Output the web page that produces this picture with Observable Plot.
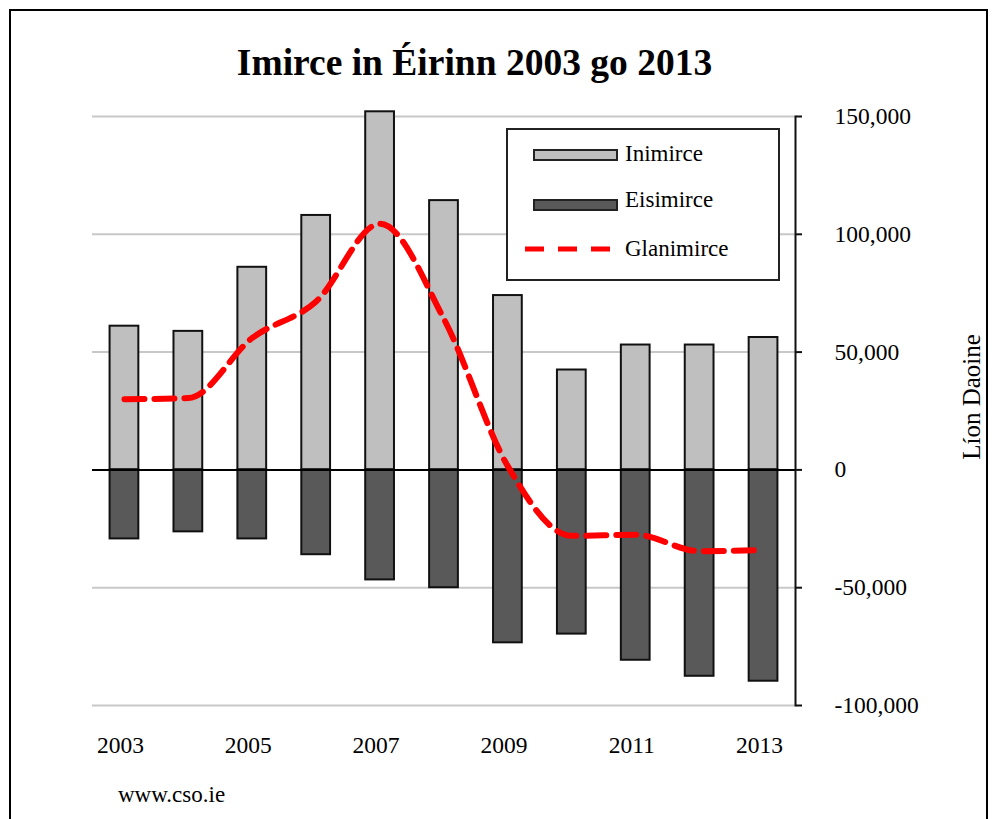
<!DOCTYPE html>
<html>
<head>
<meta charset="utf-8">
<script src="https://cdn.jsdelivr.net/npm/d3@7"></script>
<script src="https://cdn.jsdelivr.net/npm/@observablehq/plot@0.6"></script>
<style>
  html, body { margin: 0; padding: 0; background: #fff; }
  #wrap { position: relative; width: 998px; height: 819px; overflow: hidden; font-family: "Liberation Serif", "Times New Roman", serif; color: #000; }
  #frame { position: absolute; left: 9px; top: 9px; width: 979px; height: 900px; border: 2px solid #000; box-sizing: border-box; }
  #title { position: absolute; left: 0; width: 949px; top: 44px; text-align: center; font-size: 37.5px; line-height: 37.5px; font-weight: bold; white-space: nowrap; }
  #chart { position: absolute; left: 0; top: 100px; }
  #ylabel { position: absolute; left: 971px; top: 397px; transform: translate(-50%, -50%) rotate(-90deg); font-size: 25px; line-height: 25px; white-space: nowrap; }
  #caption { position: absolute; left: 118px; top: 783px; font-size: 23px; line-height: 23px; }
  #legend { position: absolute; left: 506px; top: 128px; width: 274px; height: 153px; border: 2px solid #222; box-sizing: border-box; background: #fff; }
  .sw { position: absolute; left: 25px; width: 85px; height: 12px; border: 2px solid #222; box-sizing: border-box; }
  .lt { position: absolute; left: 117px; font-size: 23px; line-height: 23px; white-space: nowrap; }
</style>
</head>
<body>
<div id="wrap">
  <div id="frame"></div>
  <div id="title">Imirce in Éirinn 2003 go 2013</div>
  <div id="chart"></div>
  <div id="ylabel">Líon Daoine</div>
  <div id="caption">www.cso.ie</div>
  <div id="legend"></div>
</div>
<script>
const years = ["2003","2004","2005","2006","2007","2008","2009","2010","2011","2012","2013"];
const inimirce = [61000, 58800, 86000, 108000, 152000, 114300, 74000, 42400, 53000, 53000, 56200];
const eisimirce = [-29300, -26300, -29300, -36000, -46700, -50000, -73400, -69700, -80800, -87600, -89700];
const glanimirce = [30000, 30500, 56000, 71500, 104500, 64000, 1500, -28000, -27500, -34500, -34000];
const yTicks = [-100000, -50000, 0, 50000, 100000, 150000];
const xTickLabels = ["2003","2005","2007","2009","2011","2013"];
const gridValues = [-100000, -50000, 50000, 100000, 150000];
const seriesNames = ["Inimirce", "Eisimirce", "Glanimirce"];
const colors = {Inimirce: "#bfbfbf", Eisimirce: "#595959", Glanimirce: "#ff0000"};

const rows = years.map((y, i) => ({year: y, inn: inimirce[i], eis: eisimirce[i], net: glanimirce[i]}));
const fmt = d => (d < 0 ? "-" : "") + d3.format(",")(Math.abs(d));

const chart = Plot.plot({
  width: 998,
  height: 670,
  marginLeft: 92,
  marginRight: 203,
  marginTop: 16,
  marginBottom: 65,
  style: {fontFamily: "Liberation Serif, Times New Roman, serif", fontSize: "23.5px", color: "#000", background: "transparent"},
  x: {type: "band", domain: years, paddingInner: 0.55, paddingOuter: 0.275, round: false},
  y: {domain: [-100000, 150000]},
  marks: [
    Plot.ruleY(gridValues, {stroke: "#c8c8c8", strokeWidth: 2}),
    Plot.barY(rows, {x: "year", y: "inn", fill: colors.Inimirce, stroke: "#111", strokeWidth: 2}),
    Plot.barY(rows, {x: "year", y: "eis", fill: colors.Eisimirce, stroke: "#111", strokeWidth: 2}),
    Plot.ruleY([0], {stroke: "#000", strokeWidth: 2}),
    Plot.line(rows, {x: "year", y: "net", stroke: colors.Glanimirce, strokeWidth: 6, strokeDasharray: "20,10", curve: "monotone-x"}),
    Plot.frame({anchor: "right", stroke: "#111", strokeWidth: 2}),
    Plot.axisY({anchor: "right", ticks: yTicks, tickFormat: fmt, tickSize: 6, tickPadding: 33, label: null, stroke: "#111", strokeWidth: 2}),
    Plot.axisX({anchor: "bottom", ticks: xTickLabels, tickSize: 0, tickPadding: 31, dx: -4, label: null})
  ]
});
document.getElementById("chart").appendChild(chart);

// Legend
const legend = document.getElementById("legend");
const swTops = [19, 69];
["Inimirce", "Eisimirce"].forEach((name, i) => {
  const sw = document.createElement("div");
  sw.className = "sw";
  sw.style.top = swTops[i] + "px";
  sw.style.background = colors[name];
  legend.appendChild(sw);
  const t = document.createElement("div");
  t.className = "lt";
  t.style.top = (i === 0 ? 12 : 58) + "px";
  t.textContent = name;
  legend.appendChild(t);
});
const ns = "http://www.w3.org/2000/svg";
const ls = document.createElementNS(ns, "svg");
ls.setAttribute("width", "100");
ls.setAttribute("height", "10");
ls.style.position = "absolute";
ls.style.left = "17px";
ls.style.top = "114px";
const ln = document.createElementNS(ns, "line");
ln.setAttribute("x1", "0"); ln.setAttribute("x2", "85");
ln.setAttribute("y1", "5"); ln.setAttribute("y2", "5");
ln.setAttribute("stroke", colors.Glanimirce);
ln.setAttribute("stroke-width", "5");
ln.setAttribute("stroke-dasharray", "19,14");
ls.appendChild(ln);
legend.appendChild(ls);
const t3 = document.createElement("div");
t3.className = "lt";
t3.style.top = "107px";
t3.textContent = seriesNames[2];
legend.appendChild(t3);
</script>
</body>
</html>
